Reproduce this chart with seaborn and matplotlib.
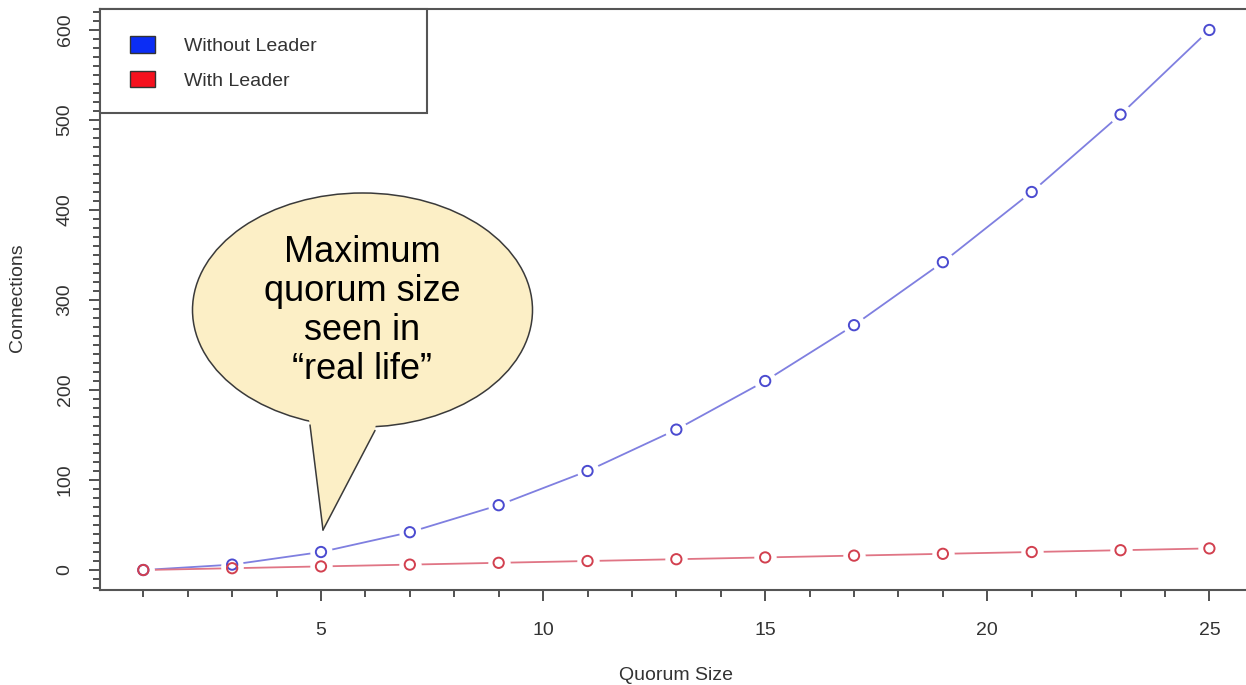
import matplotlib
matplotlib.use("Agg")
import matplotlib.pyplot as plt
import numpy as np
import pandas as pd
import seaborn as sns
from matplotlib.patches import Ellipse, Polygon, Patch, Rectangle
from matplotlib.ticker import MultipleLocator

# Quorum sizes and connection counts
quorum_size = [1, 3, 5, 7, 9, 11, 13, 15, 17, 19, 21, 23, 25]
without_leader = [0, 6, 20, 42, 72, 110, 156, 210, 272, 342, 420, 506, 600]
with_leader = [0, 2, 4, 6, 8, 10, 12, 14, 16, 18, 20, 22, 24]
series_names = ["Without Leader", "With Leader"]

line_colors = {"Without Leader": "#7f7fe0", "With Leader": "#e07585"}
ring_colors = {"Without Leader": "#4b4bd0", "With Leader": "#d2404f"}
legend_colors = ["#0b2df5", "#f5111e"]

df = pd.DataFrame({
    "quorum": quorum_size * 2,
    "connections": without_leader + with_leader,
    "series": [series_names[0]] * len(quorum_size) + [series_names[1]] * len(quorum_size),
})

sns.set_style("white")
plt.rcParams["font.family"] = ["Liberation Sans", "DejaVu Sans"]

W, H = 1246, 685
fig = plt.figure(figsize=(W / 100, H / 100), dpi=100)


def px(x, y):
    return (x / W, 1 - y / H)


# axes box in pixels: left 100, top 9, bottom 590, right runs off the figure
ax = fig.add_axes([100 / W, 1 - 590 / H, 1200 / W, 581 / H])

sns.lineplot(data=df, x="quorum", y="connections", hue="series", palette=line_colors,
             linewidth=1.3, legend=False, ax=ax, zorder=2)
# white halos leave gaps in the line around each point, like R's type="b"
sns.scatterplot(data=df, x="quorum", y="connections", color="white", s=260,
                linewidth=0, legend=False, ax=ax, zorder=3)
sns.scatterplot(data=df, x="quorum", y="connections", hue="series", palette=ring_colors,
                marker="o", s=55, linewidth=1.4, legend=False, ax=ax, zorder=4)
rings = ax.collections[-1]
rings.set_edgecolors(rings.get_facecolors().copy())
rings.set_facecolors("none")

ax.set_xlim(0.025, 27.04)
ax.set_ylim(-22.2, 623.3)
ax.xaxis.set_major_locator(MultipleLocator(5))
ax.xaxis.set_minor_locator(MultipleLocator(1))
ax.yaxis.set_major_locator(MultipleLocator(100))
ax.yaxis.set_minor_locator(MultipleLocator(10))
ax.tick_params(which="major", length=8, width=1.2, color="#333333", labelsize=14,
               labelcolor="#333333")
ax.tick_params(which="minor", length=5, width=1.2, color="#333333")
ax.tick_params(axis="x", which="both", bottom=True, pad=15)
ax.tick_params(axis="y", which="both", left=True, pad=11)
for lab in ax.get_yticklabels():
    lab.set_rotation(90)
    lab.set_va("center")

for side in ["left", "bottom", "top"]:
    ax.spines[side].set_color("#555555")
    ax.spines[side].set_linewidth(1.5)
ax.spines["right"].set_visible(False)

ax.set_xlabel("Quorum Size", fontsize=14, color="#333333")
ax.set_ylabel("Connections", fontsize=14, color="#333333")
ax.xaxis.set_label_coords(*px(676, 676), transform=fig.transFigure)
ax.xaxis.label.set_va("center")
ax.yaxis.set_label_coords(*px(18, 298), transform=fig.transFigure)
ax.yaxis.label.set_va("center")

# legend box
fig.patches.append(Rectangle(px(100, 113), 327 / W, 104 / H, transform=fig.transFigure,
                             facecolor="white", edgecolor="#555555", linewidth=1.5, zorder=5))
handles = [Patch(facecolor=c, edgecolor="#333333", linewidth=1) for c in legend_colors]
fig.legend(handles, series_names, loc="upper left", bbox_to_anchor=px(112, 19),
           frameon=False, fontsize=14, handlelength=1.3, handleheight=0.9,
           handletextpad=1.5, labelspacing=0.82, labelcolor="#333333")

# speech bubble annotation
bubble_face = "#fcefc6"
bubble_edge = "#3a3a3a"
cx, cy = px(362.5, 310)
fig.patches.append(Ellipse((cx, cy), 340 / W, 234 / H, transform=fig.transFigure,
                           facecolor=bubble_face, edgecolor=bubble_edge, linewidth=1.1, zorder=6))
tail = [px(308, 415), px(377, 415), px(375, 430.5), px(323, 530), px(310, 425)]
fig.patches.append(Polygon(tail, closed=True, transform=fig.transFigure,
                           facecolor=bubble_face, edgecolor="none", zorder=7))
for a, b in [((310, 425), (323, 530)), ((375, 430.5), (323, 530))]:
    fig.lines.append(plt.Line2D([px(*a)[0], px(*b)[0]], [px(*a)[1], px(*b)[1]],
                                transform=fig.transFigure, color=bubble_edge,
                                linewidth=1.1, zorder=8))
fig.text(*px(362, 311), "Maximum\nquorum size\nseen in\n\u201creal life\u201d",
         ha="center", va="center", fontsize=26, linespacing=1.15, color="black", zorder=9)

fig.savefig("out.png", dpi=100)
